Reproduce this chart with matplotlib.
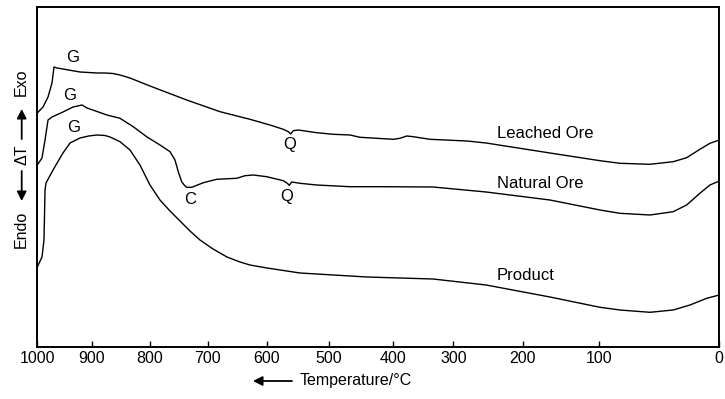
import numpy as np
import matplotlib
matplotlib.use("Agg")
import matplotlib.pyplot as plt
from matplotlib.patches import FancyArrowPatch

plt.rcParams['font.family'] = ['Liberation Sans', 'DejaVu Sans']

# temperature axis of the recorder is not linear: tick temps and where they sit (0..1 of width)
tick_temps = [1000, 900, 800, 700, 600, 500, 400, 300, 200, 100, 0]
tick_frac = [0.0, 0.0798, 0.1652, 0.2499, 0.3368, 0.4277, 0.5211, 0.6100, 0.7117, 0.8240, 1.0]

# DTA curves (temperature in degC, dT in arbitrary units)
leached_T = [1000, 989.5, 980.3, 973, 969.3, 963.8, 952.8, 921.5, 890.9, 877.2, 863.5, 851.5,
             834.3, 817.2, 800, 736.4, 679.3, 628.7, 595.2, 573.7, 565.6, 561.8, 557.6, 549.5,
             519.8, 493.2, 467, 451.3, 425.1, 399, 388, 376.9, 366, 338.5, 280.3, 252.7, 164.4,
             99.4, 82.8, 57.8, 38.4, 27.2, 16.2, 7.8, 0]
leached_dT = [234, 240, 250, 264, 280, 279, 278, 275, 274, 274, 273.5, 272,
              269, 265, 261, 247, 235.3, 227.7, 222, 217.7, 215.3, 213, 216.3, 217,
              214.3, 212.7, 212, 209.7, 208.7, 207.7, 208.7, 211, 210.3, 207.7, 206, 204, 194,
              186.3, 183.7, 182.7, 185.3, 189.3, 197.7, 203.7, 207]

natural_T = [1000, 991.4, 985.8, 980.3, 973, 952.8, 934.4, 917.8, 908.6, 873.8, 851.5, 828.7,
             805.7, 782.7, 765.3, 756.7, 751, 745.1, 740.1, 736.4, 727.8, 707.6, 684.8, 651.1,
             637.1, 623.1, 600.5, 573.7, 567.2, 564, 560.2, 546.8, 519.8, 467, 414.8, 333.5,
             252.7, 164.4, 99.4, 82.8, 57.8, 38.4, 27.2, 16.2, 7.8, 0]
natural_dT = [182, 189, 207, 227, 230, 235, 240, 242, 239, 232, 228.7, 220.3,
              210.3, 202, 195.3, 187, 175.3, 165.3, 161.5, 159.7, 159.7, 164.3, 167.7, 168.7,
              171.3, 172, 170.3, 166.3, 163.7, 161.7, 165, 163.7, 162, 160.3, 160.3, 160,
              155, 147, 137, 133.7, 132, 135.3, 142, 153.7, 162, 166]

product_T = [1000, 991.4, 987.7, 985.8, 984, 971.1, 952.8, 939.9, 921.5, 905.6, 890.9, 877.2,
             868.6, 851.5, 834.3, 817.2, 800, 782.7, 765.3, 748, 730.7, 713.4, 691.1, 667.5,
             645.5, 628.7, 600, 546.8, 440.4, 333.5, 252.7, 164.4, 99.4, 82.8, 57.8, 38.4, 24.4,
             10.5, 0]
product_dT = [80, 90, 107, 157, 164, 177, 194, 204, 209, 211, 212, 211.5,
              210, 205.3, 197, 182, 162, 147, 136, 126, 116, 107, 98, 90,
              85, 82, 79, 74, 70, 68, 62, 50, 39.7, 37, 34.7, 37, 42,
              48.7, 52]

curve_names = ['Leached Ore', 'Natural Ore', 'Product']
name_T = [237, 237, 237]
name_dT = [214, 164, 71]

peak_labels = ['G', 'G', 'G', 'Q', 'Q', 'C']
peak_T = [936, 940, 934, 563, 568, 731]
peak_dT = [290, 252, 219, 202, 151, 147]

temps_asc = np.array(tick_temps[::-1], dtype=float)
g_asc = 1.0 - np.array(tick_frac[::-1])


def forward(t):
    return np.interp(t, temps_asc, g_asc)


def inverse(u):
    return np.interp(u, g_asc, temps_asc)


fig = plt.figure(figsize=(7.25, 3.99), dpi=100)
ax = fig.add_axes([37.3 / 725, 52 / 399, 682 / 725, 340 / 399])
ax.set_xscale('function', functions=(forward, inverse))

for T, d in [(leached_T, leached_dT), (natural_T, natural_dT), (product_T, product_dT)]:
    ax.plot(T, d, color='black', lw=1.0, solid_joinstyle='round')

for name, t, d in zip(curve_names, name_T, name_dT):
    ax.text(t, d, name, fontsize=12, ha='left', va='center')
for lab, t, d in zip(peak_labels, peak_T, peak_dT):
    ax.text(t, d, lab, fontsize=12, ha='center', va='center')

ax.set_xlim(1000, 0)
ax.set_ylim(0, 340)
ax.set_xticks(tick_temps)
ax.set_xticklabels([str(t) for t in tick_temps], fontsize=11.5)
ax.set_yticks([])
ax.tick_params(axis='x', direction='in', length=4, width=1, pad=3)
for s in ax.spines.values():
    s.set_linewidth(1.4)

arrow_kw = dict(transform=fig.transFigure, arrowstyle='-|>,head_length=0.55,head_width=0.28',
                mutation_scale=10, lw=1.3, color='black', shrinkA=0, shrinkB=0)

# x label with arrow
fig.text(300 / 725, 1 - 381 / 399, 'Temperature/°C', fontsize=11.5, ha='left', va='center')
fig.add_artist(FancyArrowPatch((292 / 725, 1 - 381 / 399), (253 / 725, 1 - 381 / 399), **arrow_kw))

# y label: Endo <- dT -> Exo
yx = 21.7 / 725
fig.text(yx, 1 - 82 / 399, 'Exo', fontsize=11.5, rotation=90, ha='center', va='center')
fig.text(yx, 1 - 155 / 399, 'ΔT', fontsize=11.5, rotation=90, ha='center', va='center')
fig.text(yx, 1 - 229 / 399, 'Endo', fontsize=11.5, rotation=90, ha='center', va='center')
fig.add_artist(FancyArrowPatch((yx, 1 - 139 / 399), (yx, 1 - 109 / 399), **arrow_kw))
fig.add_artist(FancyArrowPatch((yx, 1 - 171 / 399), (yx, 1 - 201 / 399), **arrow_kw))

fig.savefig('out.png', dpi=100)
